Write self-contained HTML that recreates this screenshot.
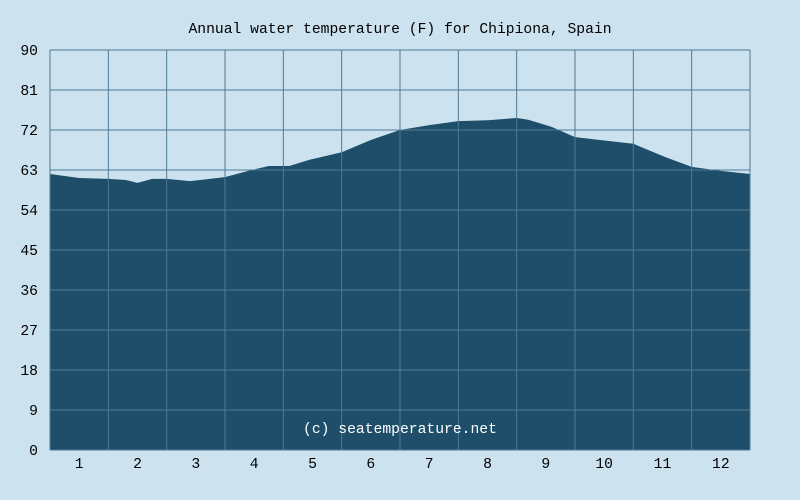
<!DOCTYPE html>
<html><head><meta charset="utf-8"><style>
body{margin:0;background:#cce3ef;}
svg{display:block;font-family:"Liberation Mono",monospace;}
</style></head><body>
<svg width="800" height="500" id="c">
<rect width="800" height="500" fill="#cce3ef"/>
<text x="400" y="33" text-anchor="middle" font-size="14.7" fill="#000">Annual water temperature (F) for Chipiona, Spain</text>
</svg>
<script>
const months=["1","2","3","4","5","6","7","8","9","10","11","12"];
const yTicks=[0,9,18,27,36,45,54,63,72,81,90];
// position in months (0..12) and temperature F
const monthPos=[0,0.5,1,1.3,1.5,1.75,2,2.4,3,3.4,3.75,4.1,4.45,5,5.5,6,6.5,7,7.5,8,8.2,8.6,9,9.6,10,10.55,11,11.5,12];
const temps=[62.1,61.2,61.0,60.75,60.1,61.0,61.0,60.5,61.4,62.8,63.9,63.9,65.3,67.0,69.75,72.0,73.1,74.0,74.2,74.7,74.3,72.7,70.4,69.5,68.9,65.9,63.7,62.8,62.1];
const svg=document.getElementById('c');const NS='http://www.w3.org/2000/svg';
const L=50,R=750,T=50,B=450;
const xs=m=>L+(R-L)*m/12;
const ys=v=>B-(B-T)*v/90;
function mk(t,a){const e=document.createElementNS(NS,t);for(const k in a)e.setAttribute(k,a[k]);svg.appendChild(e);return e;}
let d=`M${xs(monthPos[0])},${B}`;
for(let i=0;i<monthPos.length;i++)d+=` L${xs(monthPos[i]).toFixed(1)},${ys(temps[i]).toFixed(1)}`;
d+=` L${xs(monthPos[monthPos.length-1])},${B} Z`;
const area=mk('path',{d:d,fill:'#1f4e6a'});


for(let i=0;i<=12;i++){const g=mk('line',{x1:xs(i),x2:xs(i),y1:T,y2:B,stroke:'#4f7a94','stroke-width':1});

}
yTicks.forEach(v=>{const g=mk('line',{x1:L,x2:R,y1:ys(v),y2:ys(v),stroke:'#4f7a94','stroke-width':1});


const t=mk('text',{x:38,y:ys(v)+5,'text-anchor':'end','font-size':14.7,fill:'#000'});t.textContent=v;

});
months.forEach((m,i)=>{const t=mk('text',{x:xs(i+0.5),y:468,'text-anchor':'middle','font-size':14.7,fill:'#000'});t.textContent=m;

});
const w=mk('text',{x:400,y:433,'text-anchor':'middle','font-size':14.7,fill:'#fff'});w.textContent='(c) seatemperature.net';


</script>
</body></html>
